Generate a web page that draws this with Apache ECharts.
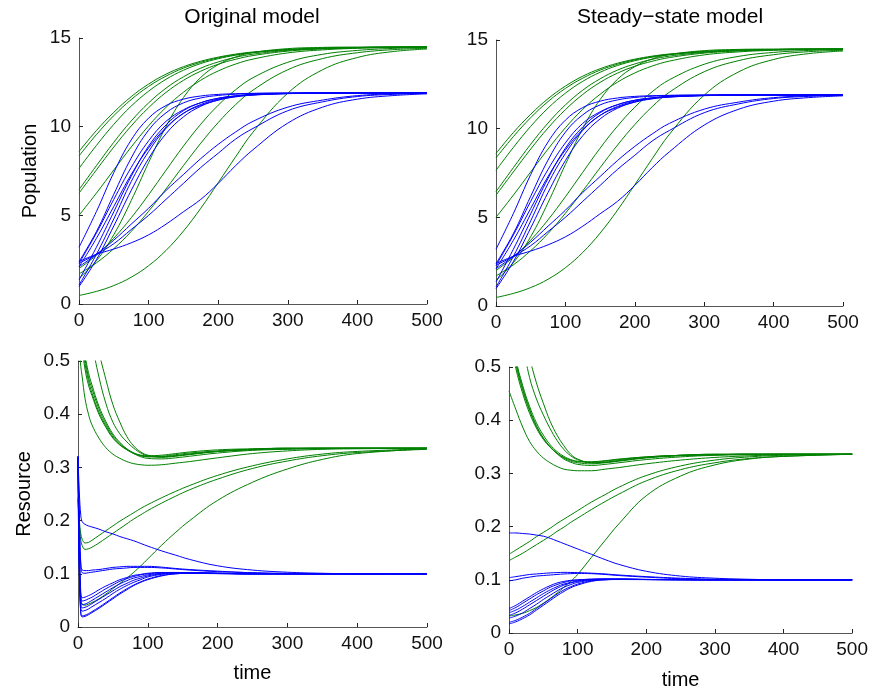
<!DOCTYPE html>
<html>
<head>
<meta charset="utf-8">
<script src="https://cdn.jsdelivr.net/npm/echarts@6/dist/echarts.min.js"></script>
<style>
  html, body { margin: 0; padding: 0; background: #fff; }
  #chart { width: 871px; height: 691px; }
</style>
</head>
<body>
<div id="chart"></div>
<script>
// time samples
var tPop = [0, 25, 50, 75, 100, 125, 150, 175, 200, 225, 250, 300, 350, 400, 450, 500];
var tResOrig = [0, 2, 4, 6, 10, 15, 20, 30, 40, 50, 60, 70, 80, 90, 100, 120, 140, 160, 200, 250, 300, 350, 400, 500];
var tResSteady = [0, 10, 20, 30, 40, 50, 60, 70, 80, 90, 100, 120, 140, 160, 200, 250, 300, 350, 400, 500];

// population, green species (same runs in both models)
var popGreen = [
	[8.6, 9.78, 10.81, 11.69, 12.40, 12.96, 13.38, 13.69, 13.92, 14.09, 14.21, 14.35, 14.43, 14.46, 14.48, 14.49],
	[8.35, 9.55, 10.62, 11.53, 12.27, 12.85, 13.30, 13.63, 13.88, 14.06, 14.19, 14.34, 14.42, 14.46, 14.48, 14.49],
	[7.65, 8.94, 10.13, 11.16, 12.0, 12.67, 13.18, 13.56, 13.83, 14.03, 14.17, 14.34, 14.42, 14.46, 14.48, 14.49],
	[6.45, 7.80, 9.12, 10.32, 11.34, 12.17, 12.81, 13.30, 13.65, 13.91, 14.09, 14.30, 14.41, 14.46, 14.48, 14.49],
	[6.25, 7.56, 8.85, 10.04, 11.07, 11.93, 12.61, 13.13, 13.52, 13.80, 14.01, 14.26, 14.38, 14.44, 14.47, 14.49],
	[5.0, 6.25, 7.56, 8.85, 10.05, 11.09, 11.94, 12.62, 13.14, 13.53, 13.81, 14.16, 14.33, 14.42, 14.46, 14.48],
	[2.0, 2.75, 3.71, 4.86, 6.16, 7.54, 8.90, 10.14, 11.21, 12.08, 12.76, 13.63, 14.08, 14.30, 14.41, 14.46],
	[1.7, 2.32, 3.12, 4.09, 5.23, 6.49, 7.80, 9.07, 10.23, 11.24, 12.06, 13.21, 13.84, 14.17, 14.34, 14.42],
	[1.45, 2.44, 3.91, 5.83, 7.98, 10.01, 11.64, 12.78, 13.50, 13.93, 14.18, 14.40, 14.47, 14.49, 14.5, 14.5],
	[0.48, 0.71, 1.04, 1.51, 2.16, 3.02, 4.11, 5.40, 6.84, 8.30, 9.69, 11.89, 13.21, 13.90, 14.23, 14.38]
];

// population, blue species
var popBlue = [
	[3.2, 5.21, 7.41, 9.25, 10.48, 11.19, 11.55, 11.73, 11.82, 11.86, 11.88, 11.9, 11.9, 11.9, 11.9, 11.9],
	[2.39, 4.08, 6.19, 8.23, 9.80, 10.78, 11.34, 11.62, 11.76, 11.83, 11.87, 11.89, 11.9, 11.9, 11.9, 11.9],
	[2.29, 4.0, 5.9, 7.7, 9.2, 10.3, 10.95, 11.35, 11.6, 11.73, 11.81, 11.87, 11.89, 11.9, 11.9, 11.9],
	[2.1, 3.7, 5.5, 7.3, 8.8, 9.95, 10.75, 11.2, 11.5, 11.68, 11.78, 11.86, 11.89, 11.9, 11.9, 11.9],
	[1.35, 3.2, 5.2, 7.2, 8.9, 10.1, 10.9, 11.35, 11.6, 11.74, 11.82, 11.88, 11.9, 11.9, 11.9, 11.9],
	[1.07, 2.8, 4.8, 6.9, 8.6, 9.9, 10.75, 11.25, 11.55, 11.72, 11.8, 11.87, 11.89, 11.9, 11.9, 11.9],
	[0.98, 2.5, 4.4, 6.4, 8.2, 9.6, 10.55, 11.15, 11.5, 11.7, 11.79, 11.87, 11.89, 11.9, 11.9, 11.9],
	[2.3, 2.8, 3.4, 4.2, 5.0, 5.9, 6.8, 7.7, 8.5, 9.3, 9.9, 10.9, 11.4, 11.7, 11.82, 11.88],
	[2.1, 2.8, 3.6, 4.5, 5.4, 6.4, 7.3, 8.2, 9.0, 9.7, 10.3, 11.1, 11.5, 11.75, 11.85, 11.89],
	[2.4, 2.8, 3.1, 3.45, 3.9, 4.5, 5.2, 5.9, 6.8, 7.8, 8.7, 10.2, 11.1, 11.55, 11.75, 11.85]
];

// resource, original model
var resGreenOrig = [
	[0.56, 0.52, 0.49, 0.47, 0.43, 0.40, 0.38, 0.355, 0.337, 0.325, 0.317, 0.311, 0.307, 0.305, 0.304, 0.305, 0.308, 0.311, 0.318, 0.326, 0.331, 0.334, 0.335, 0.336],
	[0.62, 0.58, 0.55, 0.525, 0.485, 0.455, 0.435, 0.40, 0.375, 0.355, 0.342, 0.333, 0.326, 0.322, 0.32, 0.32, 0.322, 0.325, 0.33, 0.333, 0.335, 0.336, 0.336, 0.336],
	[0.64, 0.6, 0.565, 0.535, 0.495, 0.463, 0.44, 0.404, 0.378, 0.357, 0.343, 0.334, 0.327, 0.323, 0.322, 0.323, 0.326, 0.329, 0.333, 0.335, 0.336, 0.336, 0.336, 0.336],
	[0.66, 0.61, 0.575, 0.545, 0.505, 0.47, 0.448, 0.41, 0.382, 0.36, 0.345, 0.334, 0.326, 0.32, 0.317, 0.316, 0.318, 0.321, 0.327, 0.332, 0.334, 0.335, 0.336, 0.336],
	[0.68, 0.63, 0.59, 0.555, 0.512, 0.478, 0.455, 0.415, 0.386, 0.363, 0.347, 0.335, 0.327, 0.322, 0.32, 0.321, 0.324, 0.327, 0.331, 0.334, 0.335, 0.336, 0.336, 0.336],
	[0.85, 0.8, 0.76, 0.72, 0.65, 0.58, 0.535, 0.47, 0.42, 0.385, 0.363, 0.348, 0.336, 0.327, 0.322, 0.319, 0.321, 0.324, 0.33, 0.334, 0.336, 0.336, 0.336, 0.336],
	[1.1, 1.0, 0.93, 0.87, 0.77, 0.68, 0.61, 0.52, 0.465, 0.418, 0.385, 0.358, 0.34, 0.329, 0.323, 0.32, 0.322, 0.325, 0.33, 0.334, 0.336, 0.336, 0.336, 0.336],
	[0.245, 0.2, 0.175, 0.165, 0.158, 0.159, 0.163, 0.172, 0.181, 0.19, 0.199, 0.207, 0.215, 0.223, 0.23, 0.243, 0.255, 0.266, 0.285, 0.303, 0.316, 0.325, 0.33, 0.335],
	[0.24, 0.19, 0.163, 0.153, 0.146, 0.147, 0.15, 0.158, 0.167, 0.176, 0.185, 0.194, 0.203, 0.211, 0.219, 0.233, 0.246, 0.258, 0.278, 0.298, 0.312, 0.322, 0.328, 0.334],
	[0.24, 0.12, 0.055, 0.043, 0.041, 0.043, 0.046, 0.053, 0.062, 0.072, 0.082, 0.092, 0.103, 0.115, 0.128, 0.154, 0.178, 0.2, 0.238, 0.272, 0.297, 0.315, 0.326, 0.335]
];

var resBlueOrig = [
	[0.32, 0.25, 0.21, 0.198, 0.193, 0.19, 0.188, 0.184, 0.179, 0.175, 0.17, 0.166, 0.162, 0.157, 0.152, 0.143, 0.135, 0.127, 0.115, 0.107, 0.103, 0.101, 0.1, 0.1],
	[0.32, 0.2, 0.12, 0.107, 0.106, 0.106, 0.107, 0.108, 0.11, 0.112, 0.113, 0.114, 0.114, 0.114, 0.114, 0.1125, 0.11, 0.108, 0.105, 0.102, 0.101, 0.1, 0.1, 0.1],
	[0.32, 0.19, 0.115, 0.102, 0.101, 0.102, 0.103, 0.105, 0.107, 0.109, 0.11, 0.111, 0.112, 0.112, 0.112, 0.111, 0.109, 0.107, 0.104, 0.102, 0.1, 0.1, 0.1, 0.1],
	[0.32, 0.15, 0.065, 0.055, 0.056, 0.059, 0.062, 0.07, 0.077, 0.083, 0.089, 0.093, 0.097, 0.099, 0.101, 0.1025, 0.1025, 0.102, 0.101, 0.1, 0.1, 0.1, 0.1, 0.1],
	[0.32, 0.14, 0.058, 0.049, 0.05, 0.053, 0.056, 0.064, 0.072, 0.079, 0.086, 0.091, 0.095, 0.098, 0.1, 0.102, 0.1025, 0.102, 0.101, 0.1, 0.1, 0.1, 0.1, 0.1],
	[0.32, 0.13, 0.05, 0.042, 0.043, 0.046, 0.05, 0.058, 0.066, 0.074, 0.081, 0.087, 0.092, 0.095, 0.098, 0.101, 0.102, 0.102, 0.101, 0.1, 0.1, 0.1, 0.1, 0.1],
	[0.32, 0.12, 0.044, 0.036, 0.037, 0.04, 0.044, 0.052, 0.06, 0.068, 0.076, 0.082, 0.088, 0.092, 0.096, 0.1, 0.1015, 0.1015, 0.101, 0.1, 0.1, 0.1, 0.1, 0.1],
	[0.32, 0.11, 0.037, 0.03, 0.031, 0.034, 0.038, 0.046, 0.054, 0.063, 0.071, 0.078, 0.084, 0.089, 0.094, 0.099, 0.101, 0.1015, 0.1005, 0.1, 0.1, 0.1, 0.1, 0.1],
	[0.32, 0.1, 0.028, 0.021, 0.022, 0.025, 0.029, 0.037, 0.046, 0.055, 0.064, 0.072, 0.079, 0.085, 0.09, 0.097, 0.1, 0.101, 0.1005, 0.1, 0.1, 0.1, 0.1, 0.1],
	[0.32, 0.1, 0.025, 0.019, 0.02, 0.023, 0.027, 0.035, 0.044, 0.053, 0.062, 0.07, 0.078, 0.084, 0.089, 0.096, 0.1, 0.1008, 0.1003, 0.1, 0.1, 0.1, 0.1, 0.1]
];

// resource, steady-state model
var resGreenSteady = [
	[0.455, 0.42, 0.387, 0.36, 0.342, 0.329, 0.32, 0.313, 0.308, 0.306, 0.305, 0.305, 0.308, 0.311, 0.318, 0.325, 0.33, 0.333, 0.335, 0.336],
	[0.56, 0.497, 0.45, 0.413, 0.385, 0.364, 0.349, 0.338, 0.33, 0.325, 0.322, 0.321, 0.323, 0.326, 0.331, 0.334, 0.335, 0.336, 0.336, 0.336],
	[0.57, 0.505, 0.456, 0.418, 0.388, 0.366, 0.35, 0.338, 0.329, 0.323, 0.32, 0.318, 0.32, 0.323, 0.329, 0.333, 0.335, 0.336, 0.336, 0.336],
	[0.58, 0.51, 0.46, 0.421, 0.39, 0.367, 0.35, 0.337, 0.327, 0.321, 0.317, 0.315, 0.317, 0.32, 0.326, 0.331, 0.334, 0.335, 0.336, 0.336],
	[0.59, 0.515, 0.465, 0.426, 0.395, 0.372, 0.354, 0.341, 0.332, 0.326, 0.323, 0.322, 0.324, 0.327, 0.331, 0.334, 0.335, 0.336, 0.336, 0.336],
	[0.72, 0.62, 0.545, 0.48, 0.44, 0.41, 0.384, 0.362, 0.345, 0.333, 0.326, 0.32, 0.321, 0.324, 0.33, 0.334, 0.336, 0.336, 0.336, 0.336],
	[0.85, 0.71, 0.6, 0.52, 0.47, 0.432, 0.398, 0.372, 0.352, 0.336, 0.327, 0.32, 0.321, 0.324, 0.33, 0.334, 0.336, 0.336, 0.336, 0.336],
	[0.148, 0.156, 0.164, 0.172, 0.181, 0.189, 0.197, 0.206, 0.214, 0.222, 0.23, 0.246, 0.26, 0.274, 0.296, 0.314, 0.325, 0.331, 0.334, 0.336],
	[0.136, 0.143, 0.15, 0.158, 0.166, 0.174, 0.182, 0.191, 0.199, 0.208, 0.216, 0.232, 0.247, 0.261, 0.286, 0.307, 0.32, 0.328, 0.332, 0.336],
	[0.032, 0.034, 0.037, 0.042, 0.048, 0.056, 0.065, 0.075, 0.086, 0.097, 0.11, 0.142, 0.174, 0.205, 0.258, 0.295, 0.316, 0.327, 0.332, 0.336]
];

var resBlueSteady = [
	[0.188, 0.188, 0.187, 0.186, 0.184, 0.182, 0.178, 0.173, 0.168, 0.163, 0.158, 0.148, 0.138, 0.129, 0.116, 0.107, 0.103, 0.101, 0.1, 0.1],
	[0.104, 0.106, 0.108, 0.11, 0.111, 0.112, 0.113, 0.1135, 0.114, 0.1138, 0.1135, 0.1125, 0.111, 0.109, 0.106, 0.103, 0.101, 0.1005, 0.1, 0.1],
	[0.098, 0.1, 0.103, 0.105, 0.107, 0.108, 0.109, 0.11, 0.111, 0.1115, 0.112, 0.1115, 0.11, 0.108, 0.105, 0.102, 0.1005, 0.1, 0.1, 0.1],
	[0.046, 0.052, 0.06, 0.068, 0.076, 0.083, 0.089, 0.094, 0.097, 0.099, 0.1, 0.1012, 0.1015, 0.1013, 0.1008, 0.1003, 0.1, 0.1, 0.1, 0.1],
	[0.042, 0.048, 0.056, 0.064, 0.072, 0.079, 0.086, 0.091, 0.095, 0.098, 0.0995, 0.101, 0.1012, 0.1012, 0.1006, 0.1002, 0.1, 0.1, 0.1, 0.1],
	[0.038, 0.043, 0.05, 0.058, 0.066, 0.074, 0.081, 0.087, 0.092, 0.095, 0.098, 0.1005, 0.1012, 0.1012, 0.1006, 0.1002, 0.1, 0.1, 0.1, 0.1],
	[0.033, 0.038, 0.045, 0.053, 0.061, 0.069, 0.077, 0.084, 0.09, 0.094, 0.097, 0.1, 0.101, 0.101, 0.1005, 0.1002, 0.1, 0.1, 0.1, 0.1],
	[0.028, 0.032, 0.038, 0.046, 0.054, 0.063, 0.071, 0.079, 0.086, 0.091, 0.095, 0.099, 0.1008, 0.101, 0.1005, 0.1002, 0.1, 0.1, 0.1, 0.1],
	[0.02, 0.024, 0.03, 0.037, 0.046, 0.055, 0.064, 0.073, 0.081, 0.087, 0.092, 0.098, 0.1, 0.1008, 0.1005, 0.1002, 0.1, 0.1, 0.1, 0.1],
	[0.017, 0.021, 0.027, 0.034, 0.043, 0.052, 0.061, 0.07, 0.078, 0.085, 0.09, 0.097, 0.1, 0.1005, 0.1003, 0.1001, 0.1, 0.1, 0.1, 0.1]
];

var popTicks = [0, 15, 5];
var resTicks = [0, 0.5, 0.1];

var GREEN = '#008000';
var BLUE = '#0000ff';
var FONT = 'Liberation Sans, Arial, sans-serif';

var chart = echarts.init(document.getElementById('chart'));

function makeSeries(idx, times, rows, color) {
	var out = [];
	for (var i = 0; i < rows.length; i++) {
		var pts = [];
		for (var k = 0; k < times.length; k++) {
			pts.push([times[k], rows[i][k]]);
		}
		out.push({
			type: 'line',
			xAxisIndex: idx,
			yAxisIndex: idx,
			data: pts,
			showSymbol: false,
			smooth: 0.4,
			clip: true,
			silent: true,
			lineStyle: { color: color, width: 1 },
			z: color === BLUE ? 3 : 2
		});
	}
	return out;
}

function xAx(idx, name, gap) {
	return {
		type: 'value', gridIndex: idx, min: 0, max: 500, interval: 100,
		name: name || '', nameLocation: 'middle', nameGap: gap || 36,
		nameTextStyle: { fontSize: 20, color: '#000', fontFamily: FONT },
		axisLine: { show: true, onZero: false, lineStyle: { color: '#555', width: 1 } },
		axisTick: { show: true, inside: true, length: 4, lineStyle: { color: '#222' } },
		axisLabel: { fontSize: 19, color: '#111', margin: 7, fontFamily: FONT },
		splitLine: { show: false }
	};
}

function yAx(idx, ticks, name, gap) {
	return {
		type: 'value', gridIndex: idx, min: ticks[0], max: ticks[1], interval: ticks[2],
		name: name || '', nameLocation: 'middle', nameGap: gap || 40,
		nameTextStyle: { fontSize: 20, color: '#000', fontFamily: FONT },
		axisLine: { show: true, onZero: false, lineStyle: { color: '#555', width: 1 } },
		axisTick: { show: true, inside: true, length: 4, lineStyle: { color: '#222' } },
		axisLabel: { fontSize: 19, color: '#111', margin: 8, fontFamily: FONT },
		splitLine: { show: false }
	};
}

var series = [];
series = series.concat(makeSeries(0, tPop, popGreen, GREEN), makeSeries(0, tPop, popBlue, BLUE));
series = series.concat(makeSeries(1, tPop, popGreen, GREEN), makeSeries(1, tPop, popBlue, BLUE));
series = series.concat(makeSeries(2, tResOrig, resGreenOrig, GREEN), makeSeries(2, tResOrig, resBlueOrig, BLUE));
series = series.concat(makeSeries(3, tResSteady, resGreenSteady, GREEN), makeSeries(3, tResSteady, resBlueSteady, BLUE));

var option = {
	animation: false,
	backgroundColor: '#fff',
	title: [
		{ text: 'Original model', left: 252, top: 7, padding: 0, textAlign: 'center',
			textStyle: { fontSize: 21, fontWeight: 'normal', color: '#000', fontFamily: FONT } },
		{ text: 'Steady\u2212state model', left: 670, top: 7, padding: 0, textAlign: 'center',
			textStyle: { fontSize: 21, fontWeight: 'normal', color: '#000', fontFamily: FONT } }
	],
	grid: [
		{ left: 79, top: 38, width: 348, height: 266 },
		{ left: 496, top: 40, width: 347, height: 266 },
		{ left: 78, top: 361, width: 349, height: 266 },
		{ left: 509, top: 367, width: 349, height: 267 }
	],
	xAxis: [xAx(0), xAx(1), xAx(2, 'time', 36), xAx(3, 'time', 37)],
	yAxis: [yAx(0, popTicks, 'Population', 39), yAx(1, popTicks), yAx(2, resTicks, 'Resource', 44), yAx(3, resTicks)],
	series: series
};

chart.setOption(option);
</script>
</body>
</html>
